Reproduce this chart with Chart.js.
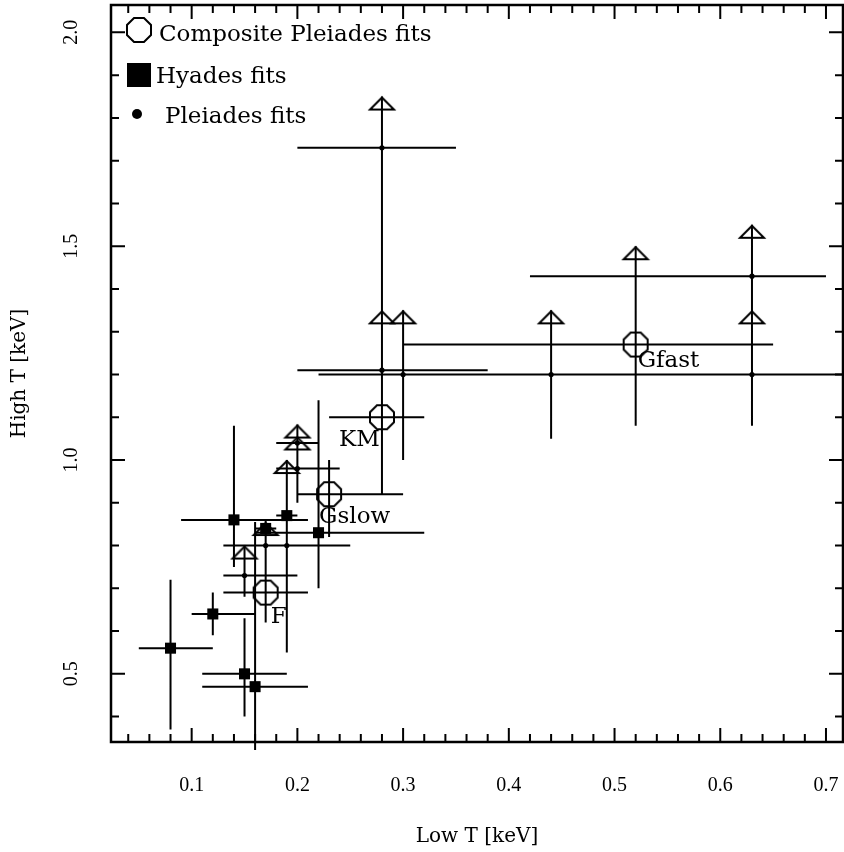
<!DOCTYPE html>
<html lang="en">

<head>
  <meta charset="UTF-8" />
  <title>High T vs Low T</title>
  <script src="https://cdn.jsdelivr.net/npm/chart.js"></script>
  <style>
    html, body { margin: 0; padding: 0; background: #fff; }
    .grafico { width: 844px; height: 852px; }
  </style>
</head>

<body>
  <div class="grafico"><canvas id="canvas_grafico"></canvas></div>
</body>

</html>
<script>

  // Composite Pleiades fits (octogonos)
  var comp_nomes = ["F", "Gslow", "KM", "Gfast"];
  var comp_x     = [0.17, 0.23, 0.28, 0.52];
  var comp_y     = [0.69, 0.92, 1.10, 1.27];
  var comp_x_min = [0.13, 0.20, 0.23, 0.30];
  var comp_x_max = [0.21, 0.30, 0.32, 0.65];
  var comp_y_min = [0.65, 0.82, 1.00, 1.08];
  var comp_y_max = [0.74, 1.00, 1.20, 1.50];
  var comp_limite = [false, false, false, true];

  // Hyades fits (quadrados)
  var hyades_x     = [0.08, 0.12, 0.15, 0.16, 0.14, 0.17, 0.22, 0.19];
  var hyades_y     = [0.56, 0.64, 0.50, 0.47, 0.86, 0.84, 0.83, 0.87];
  var hyades_x_min = [0.05, 0.10, 0.11, 0.11, 0.09, 0.16, 0.16, 0.18];
  var hyades_x_max = [0.12, 0.16, 0.19, 0.21, 0.21, 0.18, 0.32, 0.20];
  var hyades_y_min = [0.37, 0.59, 0.40, 0.32, 0.75, 0.80, 0.70, 0.80];
  var hyades_y_max = [0.72, 0.69, 0.63, 0.855, 1.08, 0.86, 1.14, 0.95];

  // Pleiades fits (pontos) - todos com limite superior (seta)
  var pleiades_x     = [0.15, 0.17, 0.19, 0.20, 0.20, 0.28, 0.28, 0.30, 0.44, 0.63, 0.63];
  var pleiades_y     = [0.73, 0.80, 0.80, 1.04, 0.98, 1.73, 1.21, 1.20, 1.20, 1.20, 1.43];
  var pleiades_x_min = [0.13, 0.13, 0.15, 0.18, 0.18, 0.20, 0.20, 0.22, 0.36, 0.40, 0.42];
  var pleiades_x_max = [0.20, 0.25, 0.25, 0.22, 0.24, 0.35, 0.38, 0.38, 0.60, 0.80, 0.70];
  var pleiades_y_min = [0.68, 0.62, 0.55, 1.00, 0.90, 1.21, 0.92, 1.00, 1.05, 1.08, 1.30];
  var pleiades_limite = [0.80, 0.855, 1.00, 1.083, 1.055, 1.85, 1.35, 1.35, 1.35, 1.35, 1.55];

  // eixos
  var ticks_x = [0.1, 0.2, 0.3, 0.4, 0.5, 0.6, 0.7];
  var ticks_y = [0.5, 1.0, 1.5, 2.0];
  var x_min = 0.0237, x_max = 0.7161;
  var y_min = 0.3406, y_max = 2.064;

  // deslocamento dos nomes dos compostos (px)
  var nome_dx = [5, -10, -43, 2];
  var nome_dy = [30, 29, 29, 22];

  function criar_octogono(r, lw) {
    var c = document.createElement("canvas");
    var s = Math.ceil(2 * r + lw + 2);
    c.width = s; c.height = s;
    var g = c.getContext("2d");
    g.strokeStyle = "#000";
    g.lineWidth = lw;
    g.beginPath();
    for (var k = 0; k < 8; k++) {
      var a = Math.PI / 8 + k * Math.PI / 4;
      var px = s / 2 + r * Math.cos(a), py = s / 2 + r * Math.sin(a);
      if (k === 0) g.moveTo(px, py); else g.lineTo(px, py);
    }
    g.closePath();
    g.stroke();
    return c;
  }

  function criar_seta(meia, alt, lw) {
    var c = document.createElement("canvas");
    c.width = 2 * meia + 6; c.height = 2 * (alt + 3);
    var g = c.getContext("2d");
    var cx = c.width / 2, cy = c.height / 2;
    g.strokeStyle = "#000";
    g.lineWidth = lw;
    g.beginPath();
    g.moveTo(cx, cy + 1);
    g.lineTo(cx + meia, cy + alt);
    g.lineTo(cx - meia, cy + alt);
    g.closePath();
    g.stroke();
    return c;
  }

  var octogono = criar_octogono(13, 2);
  var seta = criar_seta(12, 13, 2);

  function pontos(xs, ys) {
    return xs.map(function (x, i) { return { x: x, y: ys[i] }; });
  }

  // barras de erro como segmentos separados por null
  function segmentos(xs, ys, x0, x1, y0, y1) {
    var pts = [];
    for (var i = 0; i < xs.length; i++) {
      pts.push({ x: x0[i], y: ys[i] }, { x: x1[i], y: ys[i] }, { x: null, y: null });
      pts.push({ x: xs[i], y: y0[i] }, { x: xs[i], y: y1[i] }, { x: null, y: null });
    }
    return pts;
  }

  var barras = []
    .concat(segmentos(comp_x, comp_y, comp_x_min, comp_x_max, comp_y_min, comp_y_max))
    .concat(segmentos(hyades_x, hyades_y, hyades_x_min, hyades_x_max, hyades_y_min, hyades_y_max))
    .concat(segmentos(pleiades_x, pleiades_y, pleiades_x_min, pleiades_x_max, pleiades_y_min, pleiades_limite));

  var setas = pontos(pleiades_x, pleiades_limite);
  comp_x.forEach(function (x, i) {
    if (comp_limite[i]) setas.push({ x: x, y: comp_y_max[i] });
  });

  function zerar_padding(s) {
    s.paddingLeft = 0; s.paddingRight = 0; s.paddingTop = 0; s.paddingBottom = 0;
  }

  // moldura e marcas dos eixos (para dentro, nos quatro lados)
  var plugin_eixos = {
    id: "eixos",
    afterDatasetsDraw: function (chart) {
      var ctx = chart.ctx, a = chart.chartArea;
      var sx = chart.scales.x, sy = chart.scales.y;
      ctx.save();
      ctx.strokeStyle = "#000";
      ctx.lineWidth = 2;
      ctx.beginPath();
      for (var k = 2; k <= 35; k++) {
        var px = sx.getPixelForValue(k * 0.02);
        var lx = k % 5 === 0 ? 14 : 8;
        ctx.moveTo(px, a.bottom); ctx.lineTo(px, a.bottom - lx);
        ctx.moveTo(px, a.top); ctx.lineTo(px, a.top + lx);
      }
      for (var j = 4; j <= 20; j++) {
        var py = sy.getPixelForValue(j / 10);
        var ly = j % 5 === 0 ? 14 : 8;
        ctx.moveTo(a.left, py); ctx.lineTo(a.left + ly, py);
        ctx.moveTo(a.right, py); ctx.lineTo(a.right - ly, py);
      }
      ctx.stroke();
      ctx.lineWidth = 2.5;
      ctx.strokeRect(a.left, a.top, a.right - a.left, a.bottom - a.top);
      ctx.restore();
    }
  };

  // legenda dentro do grafico e nomes dos compostos
  var plugin_legenda = {
    id: "legenda",
    afterDraw: function (chart) {
      var ctx = chart.ctx, a = chart.chartArea;
      var ds = chart.data.datasets;
      ctx.save();
      ctx.fillStyle = "#000";
      ctx.font = '23px "DejaVu Serif"';
      ctx.textBaseline = "alphabetic";

      ctx.drawImage(octogono, a.left + 28 - octogono.width / 2, a.top + 25 - octogono.height / 2);
      ctx.fillText(ds[0].label, a.left + 48, a.top + 36);

      ctx.fillRect(a.left + 16, a.top + 58, 24, 24);
      ctx.fillText(ds[1].label, a.left + 45, a.top + 78);

      ctx.beginPath();
      ctx.arc(a.left + 26, a.top + 109, 5, 0, 2 * Math.PI);
      ctx.fill();
      ctx.fillText(ds[2].label, a.left + 54, a.top + 118);

      var meta = chart.getDatasetMeta(0);
      comp_nomes.forEach(function (nome, i) {
        var p = meta.data[i];
        ctx.fillText(nome, p.x + nome_dx[i], p.y + nome_dy[i]);
      });
      ctx.restore();
    }
  };

  function criar_grafico() {
    var canvas = document.getElementById("canvas_grafico");
    new Chart(canvas, {
      type: "scatter",
      data: {
        datasets: [
          {
            label: "Composite Pleiades fits",
            data: pontos(comp_x, comp_y),
            pointStyle: octogono,
            pointRadius: 13,
          },
          {
            label: "Hyades fits",
            data: pontos(hyades_x, hyades_y),
            pointStyle: "rect",
            pointRadius: 7.8,
            backgroundColor: "#000",
            borderColor: "#000",
            borderWidth: 0,
          },
          {
            label: "Pleiades fits",
            data: pontos(pleiades_x, pleiades_y),
            pointStyle: "circle",
            pointRadius: 2.6,
            backgroundColor: "#000",
            borderColor: "#000",
            borderWidth: 0,
          },
          {
            label: "limites",
            data: setas,
            pointStyle: seta,
            pointRadius: 10,
          },
          {
            type: "line",
            label: "barras",
            data: barras,
            borderColor: "#000",
            borderWidth: 2,
            pointRadius: 0,
            spanGaps: false,
            fill: false,
            clip: { left: 0, top: 0, right: 0, bottom: 8 },
          },
        ],
      },
      options: {
        responsive: true,
        maintainAspectRatio: false,
        devicePixelRatio: 1,
        animation: false,
        events: [],
        layout: { autoPadding: false, padding: { top: 5, right: 1, left: 0, bottom: 0 } },
        plugins: {
          legend: { display: false },
          tooltip: { enabled: false },
        },
        scales: {
          x: {
            type: "linear",
            min: x_min,
            max: x_max,
            afterBuildTicks: function (s) { s.ticks = ticks_x.map(function (v) { return { value: v }; }); },
            afterFit: function (s) { s.height = 110; zerar_padding(s); },
            grid: { display: false, drawTicks: false },
            border: { display: false },
            ticks: {
              padding: 31.5,
              color: "#000",
              maxRotation: 0,
              autoSkip: false,
              font: { family: "Liberation Serif", size: 20 },
              callback: function (v) { return v.toFixed(1); },
            },
            title: {
              display: true,
              text: "Low T [keV]",
              color: "#000",
              font: { family: "DejaVu Serif", size: 20 },
              padding: { top: 0, bottom: 3 },
            },
          },
          y: {
            type: "linear",
            min: y_min,
            max: y_max,
            afterBuildTicks: function (s) { s.ticks = ticks_y.map(function (v) { return { value: v }; }); },
            afterFit: function (s) { s.width = 111; zerar_padding(s); },
            grid: { display: false, drawTicks: false },
            border: { display: false },
            ticks: {
              padding: 26.5,
              color: "#000",
              crossAlign: "center",
              minRotation: 90,
              maxRotation: 90,
              autoSkip: false,
              font: { family: "Liberation Serif", size: 20 },
              callback: function (v) { return v.toFixed(1); },
            },
            title: {
              display: true,
              text: "High T [keV]",
              color: "#000",
              font: { family: "DejaVu Serif", size: 20 },
              padding: { top: 8, bottom: 0 },
            },
          },
        },
      },
      plugins: [plugin_eixos, plugin_legenda],
    });
  }

  criar_grafico();

</script>
